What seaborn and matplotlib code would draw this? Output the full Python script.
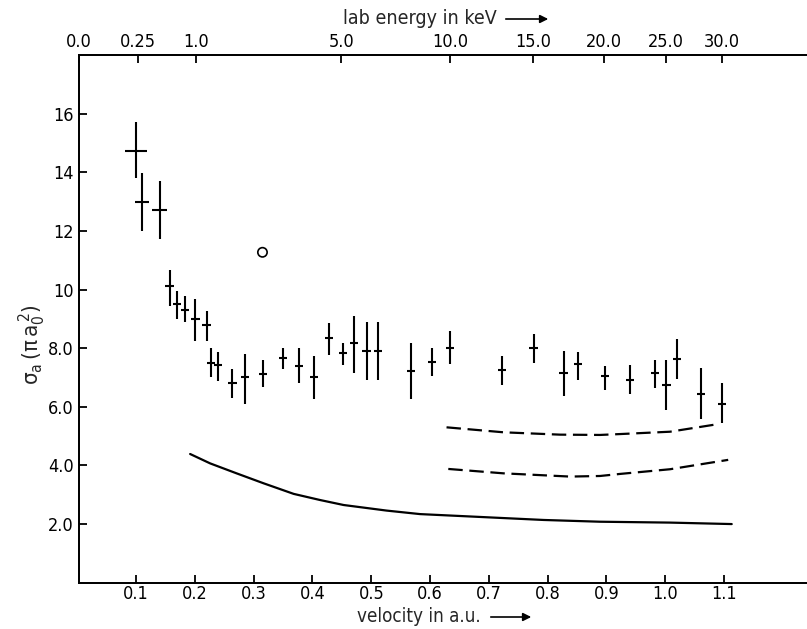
import numpy as np
import pandas as pd
import seaborn as sns
import matplotlib.pyplot as plt

# measured cross sections (velocity in a.u., sigma in pi a0^2)
velocity = [0.100, 0.110, 0.140, 0.157, 0.170, 0.183, 0.201, 0.220, 0.227, 0.239,
            0.264, 0.285, 0.316, 0.350, 0.377, 0.403, 0.428, 0.452, 0.471, 0.492,
            0.512, 0.567, 0.603, 0.634, 0.722, 0.776, 0.827, 0.851, 0.897, 0.940,
            0.982, 1.002, 1.020, 1.061, 1.096]
sigma = [14.71, 13.00, 12.70, 10.11, 9.50, 9.31, 8.99, 8.78, 7.51, 7.43,
         6.82, 7.03, 7.11, 7.65, 7.39, 7.03, 8.34, 7.83, 8.16, 7.90,
         7.90, 7.22, 7.53, 8.02, 7.25, 8.02, 7.16, 7.47, 7.05, 6.93,
         7.14, 6.75, 7.62, 6.44, 6.10]
sigma_low = [13.82, 12.01, 11.71, 9.45, 8.99, 8.90, 8.25, 8.25, 7.01, 6.88,
             6.31, 6.08, 6.68, 7.30, 6.80, 6.27, 7.77, 7.43, 7.16, 6.91,
             6.91, 6.27, 7.05, 7.45, 6.73, 7.48, 6.36, 6.91, 6.59, 6.42,
             6.65, 5.88, 6.96, 5.57, 5.45]
sigma_high = [15.70, 13.99, 13.70, 10.68, 9.94, 9.77, 9.67, 9.27, 7.99, 7.87,
              7.28, 7.79, 7.59, 7.99, 7.99, 7.73, 8.85, 8.19, 9.10, 8.88,
              8.88, 8.16, 8.02, 8.59, 7.73, 8.50, 7.90, 7.87, 7.39, 7.41,
              7.60, 7.59, 8.30, 7.31, 6.80]
vel_err = [0.018, 0.012, 0.013] + [0.007] * 32

# single open circle
circle_v = [0.315]
circle_sigma = [11.27]

# theory curves
solid_v = [0.192, 0.226, 0.271, 0.317, 0.368, 0.413, 0.453, 0.526, 0.583, 0.793, 0.889, 1.008, 1.113]
solid_sigma = [4.39, 4.07, 3.73, 3.39, 3.03, 2.82, 2.65, 2.46, 2.34, 2.14, 2.08, 2.05, 2.00]
dash_hi_v = [0.628, 0.725, 0.821, 0.889, 0.923, 1.008, 1.093]
dash_hi_sigma = [5.30, 5.13, 5.05, 5.04, 5.07, 5.15, 5.42]
dash_lo_v = [0.631, 0.725, 0.838, 0.889, 0.923, 1.008, 1.107]
dash_lo_sigma = [3.88, 3.73, 3.62, 3.64, 3.71, 3.87, 4.19]

v_ticks = [0.1, 0.2, 0.3, 0.4, 0.5, 0.6, 0.7, 0.8, 0.9, 1.0, 1.1]
v_labels = ["0.1", "0.2", "0.3", "0.4", "0.5", "0.6", "0.7", "0.8", "0.9", "1.0", "1.1"]
s_ticks = [2, 4, 6, 8, 10, 12, 14, 16]
s_labels = ["2.0", "4.0", "6.0", "8.0", "10", "12", "14", "16"]
energy_ticks = [0.0, 0.25, 1.0, 5.0, 10.0, 15.0, 20.0, 25.0, 30.0]
energy_labels = ["0.0", "0.25", "1.0", "5.0", "10.0", "15.0", "20.0", "25.0", "30.0"]

sns.set_theme(style="ticks")
plt.rcParams['font.family'] = ['DejaVu Sans']
plt.rcParams['font.stretch'] = 'condensed'
plt.rcParams['axes.edgecolor'] = 'black'
plt.rcParams['xtick.color'] = 'black'
plt.rcParams['ytick.color'] = 'black'
plt.rcParams['mathtext.default'] = 'regular'

W, H = 807, 629
fig = plt.figure(figsize=(W / 100, H / 100), dpi=100)
ax = fig.add_axes([79 / W, 1 - 582.7 / H, 1 - 79 / W, (582.7 - 55) / H])

lo = np.array(sigma) - np.array(sigma_low)
hi = np.array(sigma_high) - np.array(sigma)
ax.errorbar(velocity, sigma, yerr=[lo, hi], xerr=vel_err, fmt='none',
            ecolor='black', elinewidth=1.5, capsize=0)
sns.scatterplot(x=circle_v, y=circle_sigma, ax=ax, marker='o', s=45,
                facecolor='none', edgecolor='black', linewidth=1.2)
sns.lineplot(x=solid_v, y=solid_sigma, ax=ax, color='black', lw=1.6)
sns.lineplot(x=dash_hi_v, y=dash_hi_sigma, ax=ax, color='black', lw=1.6,
             linestyle=(0, (6.5, 3)))
sns.lineplot(x=dash_lo_v, y=dash_lo_sigma, ax=ax, color='black', lw=1.6,
             linestyle=(0, (6.5, 3)))

xlim = (0.003, 1.241)
ax.set_xlim(xlim)
ax.set_ylim(0, 18)
ax.set_xticks(v_ticks)
ax.set_xticklabels(v_labels)
ax.set_yticks(s_ticks)
ax.set_yticklabels(s_labels)
ax.spines['right'].set_visible(False)
for sp in ax.spines.values():
    sp.set_linewidth(1.3)
ax.tick_params(direction='in', length=6, width=1.3, labelsize=13, pad=4)
ax.tick_params(axis='x', pad=2)

ax2 = ax.twiny()
ax2.set_xlim(xlim)
ax2.set_xticks([0.2 * np.sqrt(e) for e in energy_ticks])
ax2.set_xticklabels(energy_labels)
ax2.spines['right'].set_visible(False)
ax2.tick_params(direction='in', length=6, width=1.3, labelsize=13, pad=3)

fig.text(497 / W, 1 - 19 / H, "lab energy in keV", fontsize=14, ha='right', va='center')
ax.annotate('', xy=(551 / W, 1 - 19 / H), xytext=(503 / W, 1 - 19 / H),
            xycoords='figure fraction',
            arrowprops=dict(arrowstyle='-|>', color='black', lw=1.2, mutation_scale=12))
fig.text(481 / W, 1 - 617 / H, "velocity in a.u.", fontsize=13.5, ha='right', va='center')
ax.annotate('', xy=(534 / W, 1 - 617 / H), xytext=(488 / W, 1 - 617 / H),
            xycoords='figure fraction',
            arrowprops=dict(arrowstyle='-|>', color='black', lw=1.2, mutation_scale=12))
fig.text(32 / W, 1 - 345 / H, r'$\sigma_a\,(\pi\, a_0^{\,2})$', fontsize=16,
         rotation=90, ha='center', va='center')

fig.savefig("out.png", dpi=100)
